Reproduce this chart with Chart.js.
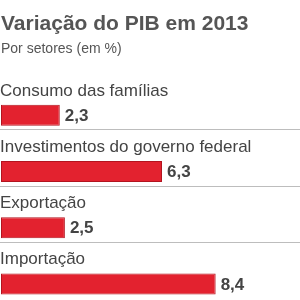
<!DOCTYPE html>
<html>
<head>
<meta charset="utf-8">
<script src="https://cdn.jsdelivr.net/npm/chart.js@4/dist/chart.umd.min.js"></script>
<style>
  html, body { margin: 0; padding: 0; background: #fff; }
  #wrap { width: 300px; height: 300px; }
</style>
</head>
<body>
<div id="wrap"><canvas id="myChart"></canvas></div>
<script>
const titulo = "Variação do PIB em 2013";
const subtitulo = "Por setores (em %)";
const setores = ["Consumo das famílias", "Investimentos do governo federal", "Exportação", "Importação"];
const variacao = [2.3, 6.3, 2.5, 8.4];

Chart.defaults.font.family = "'Liberation Sans', Arial, sans-serif";

// rótulos acima das barras, valores ao lado e linhas separadoras
const rotulos = {
  id: "rotulos",
  afterDatasetsDraw(chart) {
    const ctx = chart.ctx;
    const y = chart.scales.y;
    const meta = chart.getDatasetMeta(1);
    const meia = (y.getPixelForValue(1) - y.getPixelForValue(0)) / 2;
    ctx.save();
    for (let i = 0; i < setores.length; i++) {
      const centro = y.getPixelForValue(i);
      ctx.fillStyle = "#444";
      ctx.font = "17px 'Liberation Sans', Arial, sans-serif";
      ctx.textBaseline = "alphabetic";
      ctx.textAlign = "left";
      ctx.fillText(setores[i], 0, centro - meia + 22.5);

      const barra = meta.data[i];
      ctx.font = "bold 17px 'Liberation Sans', Arial, sans-serif";
      ctx.textBaseline = "middle";
      ctx.fillText(variacao[i].toFixed(1).replace(".", ","), barra.x + 5, barra.y + 1);

      if (i < setores.length - 1) {
        const linha = Math.round(centro + meia) + 0.5;
        ctx.strokeStyle = "#bdbdbd";
        ctx.lineWidth = 1;
        ctx.beginPath();
        ctx.moveTo(0, linha);
        ctx.lineTo(300, linha);
        ctx.stroke();
      }
    }
    ctx.restore();
  },
};

new Chart(document.getElementById("myChart"), {
  type: "bar",
  data: {
    labels: setores,
    datasets: [
      { label: "rótulo", data: setores.map(() => null) },
      {
        label: "Variação",
        data: variacao,
        backgroundColor: "#e3222f",
        borderColor: "#b3141f",
        borderWidth: 1,
        borderSkipped: false,
      },
    ],
  },
  options: {
    indexAxis: "y",
    responsive: true,
    maintainAspectRatio: false,
    animation: false,
    datasets: { bar: { categoryPercentage: 1, barPercentage: 0.75 } },
    layout: { padding: { left: 1, right: 0, top: 0, bottom: 2 } },
    scales: {
      x: { display: false, min: 0, max: 11.7 },
      y: { display: false },
    },
    plugins: {
      legend: { display: false },
      tooltip: { enabled: false },
      title: {
        display: true,
        text: titulo,
        align: "start",
        color: "#555",
        font: { size: 21, weight: "bold" },
        padding: { top: 12, bottom: 0 },
      },
      subtitle: {
        display: true,
        text: subtitulo,
        align: "start",
        color: "#555",
        font: { size: 14 },
        padding: { top: 4, bottom: 15 },
      },
    },
  },
  plugins: [rotulos],
});
</script>
</body>
</html>
